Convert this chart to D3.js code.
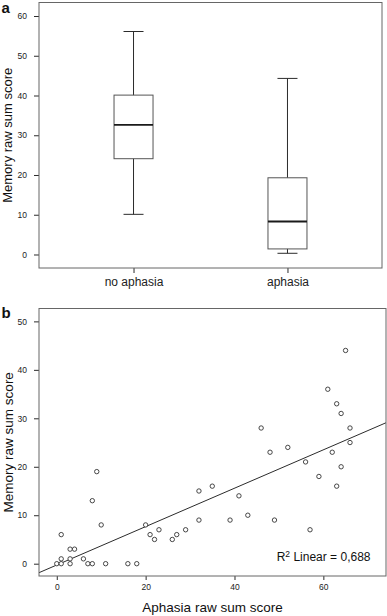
<!DOCTYPE html>
<html>
<head>
<meta charset="utf-8">
<script src="https://cdn.jsdelivr.net/npm/d3@7"></script>
<style>
  body { margin: 0; background: #fff; }
  svg { display: block; font-family: "Liberation Sans", Arial, sans-serif; }
  .tick text { fill: #222; }
</style>
</head>
<body>
<div id="chart"></div>
<script>
// panel a: box plot summary per group
const groups = ["no aphasia", "aphasia"];
const whiskerLow = [10.1, 0.3];
const q1 = [24.1, 1.4];
const median = [32.6, 8.3];
const q3 = [40.1, 19.3];
const whiskerHigh = [56.1, 44.3];
const boxTicks = [0, 10, 20, 30, 40, 50, 60];

// panel b: scatter
const aphasiaScore = [0, 1, 1, 1, 3, 3, 3, 4, 6, 7, 8, 8, 9, 10, 11, 16, 18, 20, 21, 22, 23, 26, 27, 29,
  32, 32, 35, 39, 41, 43, 46, 48, 49, 52, 56, 57, 59, 61, 62, 63, 63, 64, 64, 65, 66, 66];
const memoryScore = [0, 0, 1, 6, 1, 3, 0, 3, 1, 0, 0, 13, 19, 8, 0, 0, 0, 8, 6, 5, 7, 5, 6, 7,
  15, 9, 16, 9, 14, 10, 28, 23, 9, 24, 21, 7, 18, 36, 23, 33, 16, 31, 20, 44, 28, 25];
const scatterXTicks = [0, 20, 40, 60];
const scatterYTicks = [0, 10, 20, 30, 40, 50];
const r2Text = "0,688";

const width = 387, height = 616;
const lineColor = "#2b2b2b";
const frameColor = "#666";

let svg = d3.select("#chart")
  .append("svg")
    .attr("width", width)
    .attr("height", height);

function frame(g, x0, y0, x1, y1){
  g.append("rect")
    .attr("x", x0)
    .attr("y", y0)
    .attr("width", x1 - x0)
    .attr("height", y1 - y0)
    .attr("fill", "none")
    .attr("stroke", frameColor)
    .attr("stroke-width", 1);
}

function styleAxis(axisG, size){
  axisG.select(".domain").remove();
  axisG.selectAll(".tick line").attr("stroke", lineColor);
  axisG.selectAll(".tick text")
    .attr("font-size", size)
    .attr("font-family", "Liberation Sans, Arial, sans-serif");
}

// ---------- panel a ----------
let a = { left: 39, top: 2.5, right: 382, bottom: 268 };

let xA = d3.scalePoint()
  .domain(groups)
  .range([a.left, a.right])
  .padding(0.614);

let yA = d3.scaleLinear()
  .domain([-3.4, 63.4])
  .range([a.bottom, a.top]);

let boxW = 39;
let capW = 20;

let gA = svg.append("g");

let yAxisA = gA.append("g")
  .attr("transform", "translate(" + a.left + ",0)")
  .call(d3.axisLeft(yA).tickValues(boxTicks).tickSize(5).tickPadding(7));
styleAxis(yAxisA, 8.5);

let xAxisA = gA.append("g")
  .attr("transform", "translate(0," + a.bottom + ")")
  .call(d3.axisBottom(xA).tickSize(5).tickPadding(4.5));
styleAxis(xAxisA, 12);

let boxes = gA.selectAll("g.box")
  .data(groups)
  .enter()
  .append("g")
    .attr("class", "box");

boxes.append("line") // whisker stem
  .attr("x1", d => xA(d))
  .attr("x2", d => xA(d))
  .attr("y1", (d, i) => yA(whiskerLow[i]))
  .attr("y2", (d, i) => yA(whiskerHigh[i]))
  .attr("stroke", lineColor);

boxes.selectAll("line.cap")
  .data((d, i) => [whiskerLow[i], whiskerHigh[i]].map(v => ({g: d, v: v})))
  .enter()
  .append("line")
    .attr("class", "cap")
    .attr("x1", d => xA(d.g) - capW / 2)
    .attr("x2", d => xA(d.g) + capW / 2)
    .attr("y1", d => yA(d.v))
    .attr("y2", d => yA(d.v))
    .attr("stroke", lineColor);

boxes.append("rect")
  .attr("x", d => xA(d) - boxW / 2)
  .attr("width", boxW)
  .attr("y", (d, i) => yA(q3[i]))
  .attr("height", (d, i) => yA(q1[i]) - yA(q3[i]))
  .attr("fill", "#fff")
  .attr("stroke", "#555");

boxes.append("line") // median
  .attr("x1", d => xA(d) - boxW / 2)
  .attr("x2", d => xA(d) + boxW / 2)
  .attr("y1", (d, i) => yA(median[i]))
  .attr("y2", (d, i) => yA(median[i]))
  .attr("stroke", "#1a1a1a")
  .attr("stroke-width", 1.8);

frame(gA, a.left, a.top, a.right, a.bottom);

gA.append("text")
  .text("Memory raw sum score")
  .attr("transform", "translate(12," + ((a.top + a.bottom) / 2) + ") rotate(-90)")
  .attr("text-anchor", "middle")
  .attr("font-size", 13)
  .attr("fill", "#111");

gA.append("text")
  .text("a")
  .attr("x", 1.5)
  .attr("y", 13)
  .attr("font-size", 15)
  .attr("font-weight", "bold")
  .attr("fill", "#111");

// ---------- panel b ----------
let b = { left: 39, top: 308.5, right: 386, bottom: 576 };

let xB = d3.scaleLinear()
  .domain([-4, 74.1])
  .range([b.left, b.right]);

let yB = d3.scaleLinear()
  .domain([-2.54, 52.66])
  .range([b.bottom, b.top]);

let gB = svg.append("g");

let yAxisB = gB.append("g")
  .attr("transform", "translate(" + b.left + ",0)")
  .call(d3.axisLeft(yB).tickValues(scatterYTicks).tickSize(5).tickPadding(7));
styleAxis(yAxisB, 8.5);

let xAxisB = gB.append("g")
  .attr("transform", "translate(0," + b.bottom + ")")
  .call(d3.axisBottom(xB).tickValues(scatterXTicks).tickSize(4).tickPadding(4));
styleAxis(xAxisB, 8.5);

// least squares fit of memory on aphasia
let mx = d3.mean(aphasiaScore), my = d3.mean(memoryScore);
let sxy = d3.sum(aphasiaScore, (v, i) => (v - mx) * (memoryScore[i] - my));
let sxx = d3.sum(aphasiaScore, v => (v - mx) * (v - mx));
let slope = sxy / sxx;
let intercept = my - slope * mx;

gB.append("clipPath")
  .attr("id", "clipB")
  .append("rect")
    .attr("x", b.left)
    .attr("y", b.top)
    .attr("width", b.right - b.left)
    .attr("height", b.bottom - b.top);

let fitX = xB.domain();
gB.append("line")
  .attr("clip-path", "url(#clipB)")
  .attr("x1", xB(fitX[0]))
  .attr("y1", yB(intercept + slope * fitX[0]))
  .attr("x2", xB(fitX[1]))
  .attr("y2", yB(intercept + slope * fitX[1]))
  .attr("stroke", lineColor)
  .attr("stroke-width", 1);

gB.selectAll("circle")
  .data(aphasiaScore)
  .enter()
  .append("circle")
    .attr("cx", d => xB(d))
    .attr("cy", (d, i) => yB(memoryScore[i]))
    .attr("r", 2.2)
    .attr("fill", "#fff")
    .attr("stroke", "#333")
    .attr("stroke-width", 0.9);

frame(gB, b.left, b.top, b.right, b.bottom);

let r2 = gB.append("text")
  .attr("x", 370.5)
  .attr("y", 561)
  .attr("text-anchor", "end")
  .attr("font-size", 12)
  .attr("fill", "#111");
r2.append("tspan").text("R");
r2.append("tspan").text("2").attr("font-size", 8.5).attr("dy", -4.5);
r2.append("tspan").text(" Linear = " + r2Text).attr("dy", 4.5);

gB.append("text")
  .text("Memory raw sum score")
  .attr("transform", "translate(12.5," + ((b.top + b.bottom) / 2) + ") rotate(-90)")
  .attr("text-anchor", "middle")
  .attr("font-size", 13.5)
  .attr("fill", "#111");

gB.append("text")
  .text("Aphasia raw sum score")
  .attr("x", (b.left + b.right) / 2)
  .attr("y", 612)
  .attr("text-anchor", "middle")
  .attr("font-size", 13.5)
  .attr("fill", "#111");

gB.append("text")
  .text("b")
  .attr("x", 1.5)
  .attr("y", 318)
  .attr("font-size", 15)
  .attr("font-weight", "bold")
  .attr("fill", "#111");
</script>
</body>
</html>
